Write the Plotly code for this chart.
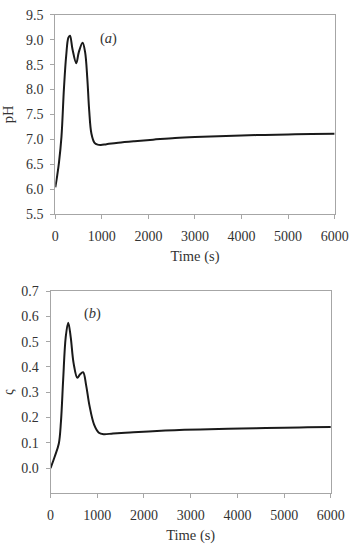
import plotly.graph_objects as go

# Panel (a): pH vs time
t_a = [0, 40, 78, 132, 186, 234, 281, 315, 369, 450, 505, 586, 640, 687, 728, 775, 843, 910, 979, 1100, 1352, 1700, 2100, 2572, 3000, 3500, 4000, 4500, 5000, 5500, 6000]
ph = [6.04, 6.27, 6.53, 7.05, 8.03, 8.68, 9.04, 9.08, 8.81, 8.53, 8.75, 8.94, 8.75, 8.23, 7.58, 7.12, 6.93, 6.895, 6.89, 6.905, 6.935, 6.965, 6.995, 7.03, 7.05, 7.065, 7.08, 7.09, 7.1, 7.11, 7.115]

# Panel (b): ς vs time
t_b = [0, 88, 176, 223, 270, 324, 378, 432, 493, 574, 628, 696, 763, 831, 932, 1034, 1135, 1338, 1700, 2100, 2655, 3200, 3800, 4400, 5000, 5500, 6000]
zeta = [0.0, 0.045, 0.096, 0.185, 0.35, 0.517, 0.575, 0.517, 0.415, 0.357, 0.37, 0.379, 0.326, 0.249, 0.172, 0.14, 0.134, 0.137, 0.141, 0.145, 0.15, 0.153, 0.156, 0.158, 0.16, 0.161, 0.162]

x_ticks = [0, 1000, 2000, 3000, 4000, 5000, 6000]
ph_ticks = [5.5, 6.0, 6.5, 7.0, 7.5, 8.0, 8.5, 9.0, 9.5]
zeta_ticks = [0.0, 0.1, 0.2, 0.3, 0.4, 0.5, 0.6, 0.7]

W, H = 361, 551
font = "Liberation Serif"
axcol = "#a6a6a6"
txtcol = "#333333"

fig = go.Figure()
fig.add_trace(go.Scatter(x=t_a, y=ph, mode="lines", line=dict(color="#1a1a1a", width=2, shape="spline", smoothing=1.0),
                         xaxis="x", yaxis="y", showlegend=False, hoverinfo="skip"))
fig.add_trace(go.Scatter(x=t_b, y=zeta, mode="lines", line=dict(color="#1a1a1a", width=2, shape="spline", smoothing=1.0),
                         xaxis="x2", yaxis="y2", showlegend=False, hoverinfo="skip"))

common = dict(showline=True, linecolor=axcol, linewidth=1, mirror=True, ticks="outside",
              tickcolor=axcol, ticklen=4, showgrid=False, zeroline=False,
              tickfont=dict(family=font, size=14, color=txtcol))
tfont = dict(family=font, size=14.5, color=txtcol)

fig.update_layout(
    width=W, height=H, margin=dict(l=0, r=0, t=0, b=0),
    paper_bgcolor="white", plot_bgcolor="white",
    font=dict(family=font, color=txtcol),
    xaxis=dict(domain=[54/W, 348/W], anchor="y", range=[0, 6000], tickvals=x_ticks,
               ticklabelstandoff=5,
               title=dict(text="Time (s)", font=tfont, standoff=7), **common),
    yaxis=dict(domain=[1-213/H, 1-8/H], anchor="x", range=[5.5, 9.5], tickvals=ph_ticks,
               ticktext=[f"{v:.1f}" for v in ph_ticks], ticklabelstandoff=4,
               title=dict(text="pH", font=tfont, standoff=9), **common),
    xaxis2=dict(domain=[49/W, 344/W], anchor="y2", range=[0, 6000], tickvals=x_ticks,
                ticklabelstandoff=5,
                title=dict(text="Time (s)", font=tfont, standoff=7), **common),
    yaxis2=dict(domain=[1-500/H, 1-292/H], anchor="x2", range=[-0.1, 0.7], tickvals=zeta_ticks,
                ticktext=[f"{v:.1f}" for v in zeta_ticks], ticklabelstandoff=4,
                title=dict(text="ς", font=tfont, standoff=9), **common),
    annotations=[
        dict(text="(<i>a</i>)", x=1149, y=9.03, xref="x", yref="y", showarrow=False,
             font=dict(family=font, size=14.5, color=txtcol)),
        dict(text="(<i>b</i>)", x=892, y=0.613, xref="x2", yref="y2", showarrow=False,
             font=dict(family=font, size=14.5, color=txtcol)),
    ],
)

fig.write_html("out.html")
